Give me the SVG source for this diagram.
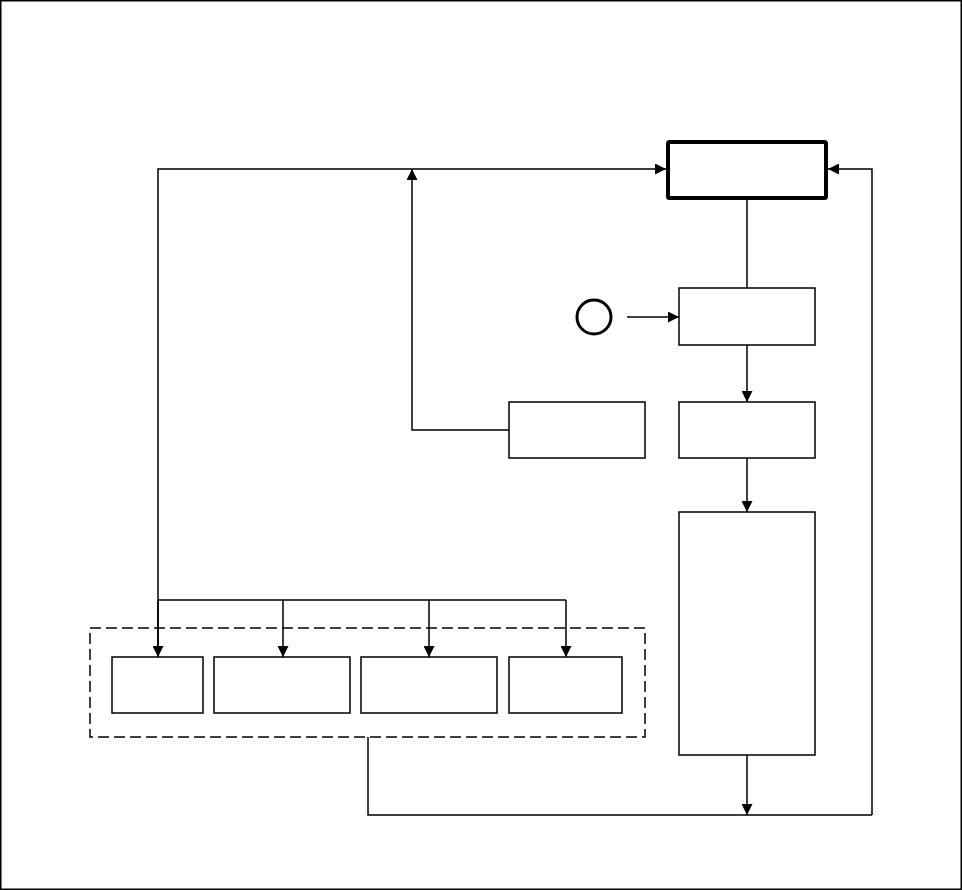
<svg xmlns="http://www.w3.org/2000/svg" width="962" height="890" viewBox="0 0 962 890">
<style>
.node{fill:#fff;stroke:#000;stroke-width:1.5}
.thick{fill:#fff;stroke:#000;stroke-width:4;stroke-linejoin:round}
.con{fill:none;stroke:#000;stroke-width:1.5}
.dash{fill:none;stroke:#000;stroke-width:1.5;stroke-dasharray:11,5}
</style>
<defs>
<marker id="ah" viewBox="0 0 10 10" refX="10" refY="5" markerWidth="11" markerHeight="11" markerUnits="userSpaceOnUse" orient="auto">
<path d="M0,0 L10,5 L0,10 Z" fill="#000"/>
</marker>
</defs>
<rect x="0.75" y="0.75" width="960.5" height="888.5" fill="#fff" stroke="#000" stroke-width="1.5"/>
<g id="connectors">
<path class="con" d="M158,657 V169 H666" marker-end="url(#ah)"/>
<path class="con" d="M509,430 H412 V169" marker-end="url(#ah)"/>
<path class="con" d="M872,815 V169 H828" marker-end="url(#ah)"/>
<path class="con" d="M747,199 V288"/>
<path class="con" d="M627,317 H679" marker-end="url(#ah)"/>
<path class="con" d="M747,345 V402" marker-end="url(#ah)"/>
<path class="con" d="M747,458 V512" marker-end="url(#ah)"/>
<path class="con" d="M747,755 V815" marker-end="url(#ah)"/>
<path class="con" d="M368,737 V815 H872"/>
<path class="con" d="M158,600 H566"/>
<path class="con" d="M158,600 V657" marker-end="url(#ah)"/>
<path class="con" d="M283,600 V657" marker-end="url(#ah)"/>
<path class="con" d="M429,600 V657" marker-end="url(#ah)"/>
<path class="con" d="M566,600 V657" marker-end="url(#ah)"/>
</g>
<g id="group-dashed"><rect class="dash" x="90" y="628" width="555" height="109"/></g>
<g id="top"><rect class="thick" x="668" y="142" width="158" height="56" rx="1.5"/></g>
<g id="start"><circle cx="594" cy="317" r="17" fill="#fff" stroke="#000" stroke-width="3"/></g>
<g id="box2"><rect class="node" x="679" y="288" width="136" height="57"/></g>
<g id="box3"><rect class="node" x="679" y="402" width="136" height="56"/></g>
<g id="boxLeft"><rect class="node" x="509" y="402" width="136" height="56"/></g>
<g id="bigBox"><rect class="node" x="679" y="512" width="136" height="243"/></g>
<g id="subA"><rect class="node" x="112" y="657" width="91" height="56"/></g>
<g id="subB"><rect class="node" x="214" y="657" width="136" height="56"/></g>
<g id="subC"><rect class="node" x="361" y="657" width="136" height="56"/></g>
<g id="subD"><rect class="node" x="509" y="657" width="113" height="56"/></g>
</svg>
